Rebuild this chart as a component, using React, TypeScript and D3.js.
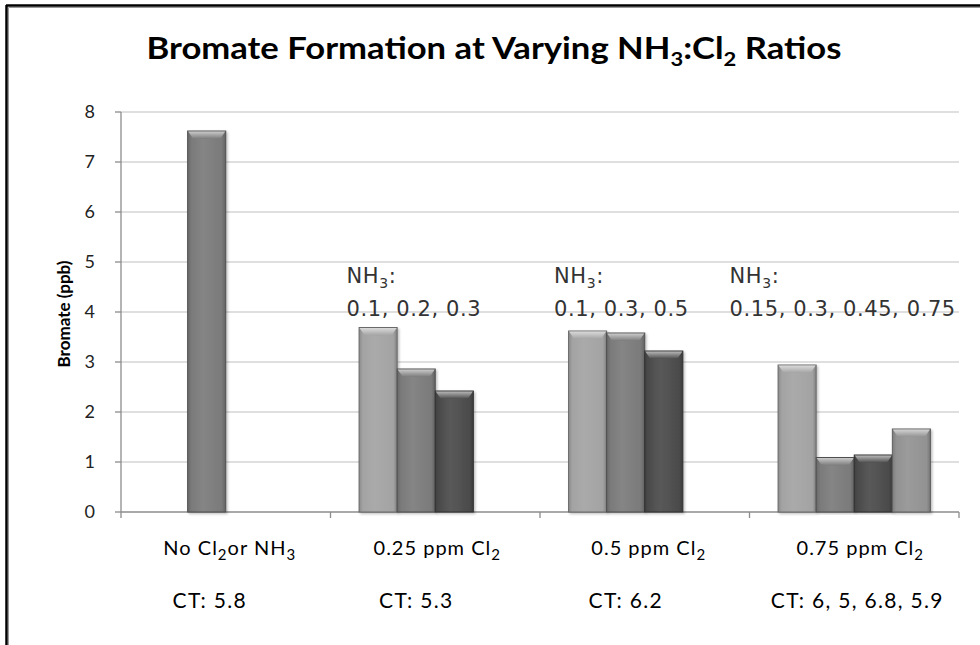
import React from "react";
import * as d3 from "d3";

// ---- data ----
const categories = ["No Cl_2or NH_3", "0.25 ppm Cl_2", "0.5 ppm  Cl_2", "0.75 ppm Cl_2"];
const ctLabels = ["CT: 5.8", "CT: 5.3", "CT: 6.2", "CT: 6, 5, 6.8, 5.9"];
const nh3Labels = ["", "0.1, 0.2, 0.3", "0.1, 0.3, 0.5", "0.15, 0.3, 0.45, 0.75"];
const seriesNames = ["NH3 dose 1", "NH3 dose 2", "NH3 dose 3", "NH3 dose 4"];
const series1 = [null, 3.69, 3.62, 2.94];
const series2 = [7.62, 2.86, 3.58, 1.09];
const series3 = [null, 2.42, 3.22, 1.14];
const series4 = [null, null, null, 1.66];
const yTicks = [0, 1, 2, 3, 4, 5, 6, 7, 8];
const title = "Bromate Formation at Varying NH_3:Cl_2 Ratios";
const yTitle = "Bromate (ppb)";

const seriesValues = [series1, series2, series3, series4];
const seriesColors = ["#a3a3a3", "#7a7a7a", "#4b4b4b", "#929292"];

// ---- layout ----
const W = 980;
const H = 645;
const plot = { left: 121, right: 959, top: 112, bottom: 512 };
const annotationDx = [0, 16, 14, -20];
const labelDx = [4, 2, 4, 6];
const ctDx = [-16, -19, -19, 3];

function withSubs(text: string, subSize: number, dy: number) {
  const parts = text.split(/_(\d)/);
  const out: React.ReactNode[] = [];
  parts.forEach((p, i) => {
    if (i % 2 === 0) {
      if (p) out.push(<tspan key={i}>{p}</tspan>);
    } else {
      out.push(
        <tspan key={i} dy={dy} fontSize={subSize}>
          {p}
        </tspan>
      );
      out.push(<tspan key={i + "b"} dy={-dy}>{"\u200B"}</tspan>);
    }
  });
  return out;
}

function lighten(c: string, k: number) {
  const col = d3.color(c)!.rgb();
  return d3.rgb(col.r + (255 - col.r) * k, col.g + (255 - col.g) * k, col.b + (255 - col.b) * k).toString();
}
function darken(c: string, k: number) {
  const col = d3.color(c)!.rgb();
  return d3.rgb(col.r * (1 - k), col.g * (1 - k), col.b * (1 - k)).toString();
}

export default function App() {
  const x = d3.scaleBand<string>().domain(categories).range([plot.left, plot.right]).paddingInner(0).paddingOuter(0);
  const xs = d3
    .scaleBand<string>()
    .domain(seriesNames)
    .range([0, x.bandwidth()])
    .paddingInner(0)
    .paddingOuter(0.75);
  const y = d3.scaleLinear().domain([0, 8]).range([plot.bottom, plot.top]);

  const bars: { key: string; si: number; x: number; y: number; w: number; h: number; color: string }[] = [];
  seriesValues.forEach((vals, si) => {
    vals.forEach((v, ci) => {
      if (v == null) return;
      const bx = (x(categories[ci]) as number) + (xs(seriesNames[si]) as number);
      bars.push({
        key: `${si}-${ci}`,
        si,
        x: bx,
        y: y(v),
        w: xs.bandwidth(),
        h: y(0) - y(v),
        color: seriesColors[si],
      });
    });
  });

  const boundaries = [...categories.map((c) => x(c) as number), plot.right];
  const calibri = "Lato, 'Open Sans', sans-serif";

  return (
    <svg
      width={W}
      height={H}
      viewBox={`0 0 ${W} ${H}`}
      style={{ position: "absolute", left: 0, top: 0, background: "#fff" }}
    >
      <defs>
        {seriesColors.map((c, i) => (
          <linearGradient key={i} id={`g${i}`} x1="0" x2="1" y1="0" y2="0">
            <stop offset="0" stopColor={darken(c, 0.15)} />
            <stop offset="0.1" stopColor={c} />
            <stop offset="0.4" stopColor={lighten(c, 0.08)} />
            <stop offset="0.9" stopColor={c} />
            <stop offset="1" stopColor={darken(c, 0.2)} />
          </linearGradient>
        ))}
        {seriesColors.map((c, i) => (
          <linearGradient key={"t" + i} id={`t${i}`} x1="0" x2="0" y1="0" y2="1">
            <stop offset="0" stopColor={lighten(c, 0.6)} />
            <stop offset="1" stopColor={c} />
          </linearGradient>
        ))}
        <filter id="shadow" x="-20%" y="-5%" width="140%" height="110%">
          <feDropShadow dx="1.5" dy="1.5" stdDeviation="1.2" floodColor="#000" floodOpacity="0.25" />
        </filter>
      </defs>

      {/* frame */}
      <line x1={6} x2={W} y1={5.5} y2={5.5} stroke="#000" strokeWidth={2.5} />
      <line x1={6.5} x2={6.5} y1={5} y2={H} stroke="#000" strokeWidth={2.5} />
      <line x1={8.5} x2={W} y1={7.5} y2={7.5} stroke="#9a9a9a" strokeWidth={1} />
      <line x1={8.5} x2={8.5} y1={7.5} y2={H} stroke="#9a9a9a" strokeWidth={1} />

      {/* title */}
      <text
        x={494}
        y={59}
        textAnchor="middle"
        fontFamily={calibri}
        fontWeight="bold"
        fontSize={30}
        textLength={695}
        lengthAdjust="spacingAndGlyphs"
        fill="#000"
      >
        {withSubs(title, 19, 7)}
      </text>

      {/* gridlines */}
      {yTicks
        .filter((t) => t > 0)
        .map((t) => (
          <line key={t} x1={plot.left} x2={plot.right} y1={y(t)} y2={y(t)} stroke="#d4d4d4" strokeWidth={1.3} />
        ))}

      {/* y axis */}
      <line x1={plot.left} x2={plot.left} y1={plot.top} y2={plot.bottom} stroke="#8c8c8c" strokeWidth={1.3} />
      {yTicks.map((t) => (
        <g key={t}>
          <line x1={plot.left - 6} x2={plot.left} y1={y(t)} y2={y(t)} stroke="#8c8c8c" strokeWidth={1.3} />
          <text
            x={plot.left - 26}
            y={y(t)}
            dy="0.36em"
            textAnchor="end"
            fontFamily={calibri}
            fontSize={18}
            fill="#222"
          >
            {t}
          </text>
        </g>
      ))}
      <text
        transform={`translate(${70},${(plot.top + plot.bottom) / 2 + 2}) rotate(-90)`}
        textAnchor="middle"
        fontFamily={calibri}
        fontWeight="bold"
        fontSize={17}
        fill="#000"
      >
        {yTitle}
      </text>

      {/* x axis */}
      <line x1={plot.left} x2={plot.right} y1={plot.bottom} y2={plot.bottom} stroke="#8c8c8c" strokeWidth={1.3} />
      {boundaries.map((b, i) => (
        <line key={i} x1={b} x2={b} y1={plot.bottom} y2={plot.bottom + 6} stroke="#8c8c8c" strokeWidth={1.3} />
      ))}

      {/* bars */}
      {bars.map((b) => {
        const bev = 7;
        return (
          <g key={b.key} filter="url(#shadow)">
            <rect x={b.x} y={b.y} width={b.w} height={b.h} fill={`url(#g${b.si})`} stroke={darken(b.color, 0.35)} strokeWidth={1} />
            <path
              d={`M${b.x + 0.5},${b.y + 0.5} L${b.x + b.w - 0.5},${b.y + 0.5} L${b.x + b.w - 5},${b.y + bev} Q${b.x + b.w / 2},${b.y + bev + 2} ${b.x + 5},${b.y + bev} Z`}
              fill={`url(#t${b.si})`}
            />
          </g>
        );
      })}

      {/* NH3 annotations */}
      {nh3Labels.map((lab, i) =>
        lab ? (
          <g key={i} fontFamily="'DejaVu Sans', Verdana, sans-serif" fontSize={21} fill="#333" letterSpacing={0.6}>
            <text x={(x(categories[i]) as number) + annotationDx[i]} y={283}>
              {withSubs("NH_3:", 14, 5)}
            </text>
            <text x={(x(categories[i]) as number) + annotationDx[i]} y={316}>
              {lab}
            </text>
          </g>
        ) : null
      )}

      {/* category labels */}
      {categories.map((c, i) => (
        <text
          key={c}
          x={(x(c) as number) + x.bandwidth() / 2 + labelDx[i]}
          y={555}
          textAnchor="middle"
          fontFamily={calibri}
          fontSize={20}
          letterSpacing={1}
          fill="#000"
        >
          {withSubs(c, 15, 5)}
        </text>
      ))}
      {ctLabels.map((c, i) => (
        <text
          key={c}
          x={(x(categories[i]) as number) + x.bandwidth() / 2 + ctDx[i]}
          y={608}
          textAnchor="middle"
          fontFamily={calibri}
          fontSize={21}
          letterSpacing={1.3}
          fill="#000"
        >
          {c}
        </text>
      ))}
    </svg>
  );
}
